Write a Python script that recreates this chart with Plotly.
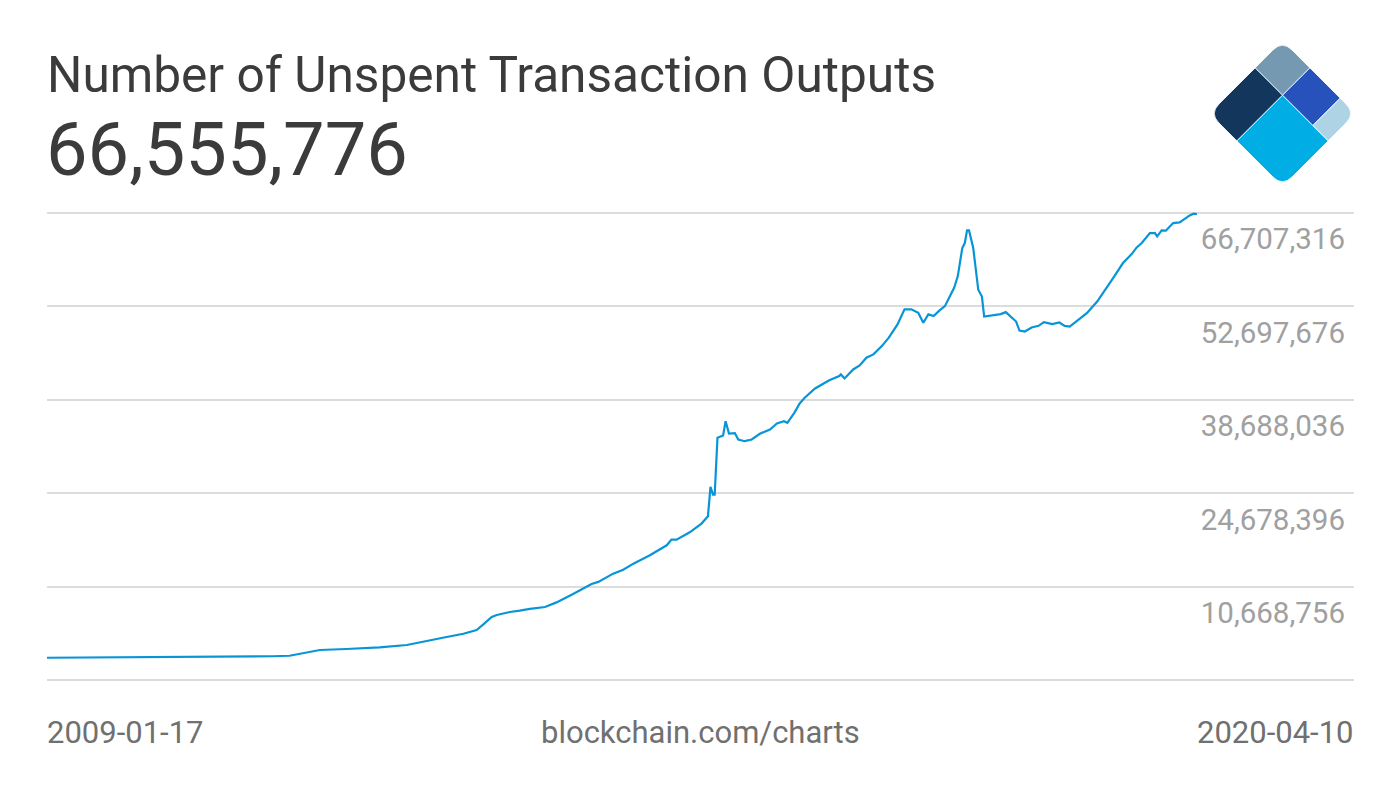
import pandas as pd
import plotly.graph_objects as go

# values (UTXO count, millions)
DATES = [
    "2009-01-17", "2009-07-01", "2010-01-01", "2010-07-01", "2011-01-01",
    "2011-04-01", "2011-06-01", "2011-06-20", "2011-08-01", "2011-09-17",
    "2011-12-20", "2012-04-17", "2012-07-23", "2012-10-14", "2012-12-12",
    "2013-02-10", "2013-03-29", "2013-04-21", "2013-05-22", "2013-06-09",
    "2013-07-26", "2013-08-30", "2013-10-05", "2013-11-28", "2014-01-08",
    "2014-03-08", "2014-05-13", "2014-06-06", "2014-07-29", "2014-09-03",
    "2014-10-09", "2014-12-07", "2015-02-05", "2015-02-22", "2015-03-12",
    "2015-04-28", "2015-06-09", "2015-07-02", "2015-07-11", "2015-07-20",
    "2015-07-26", "2015-08-05", "2015-08-25", "2015-09-03", "2015-09-15",
    "2015-10-06", "2015-10-18", "2015-11-10", "2015-12-05", "2016-01-03",
    "2016-02-08", "2016-03-04", "2016-03-29", "2016-04-10", "2016-05-05",
    "2016-05-24", "2016-06-11", "2016-07-18", "2016-09-05", "2016-10-12",
    "2016-10-18", "2016-10-31", "2016-12-01", "2016-12-24", "2017-01-17",
    "2017-02-11", "2017-03-13", "2017-04-07", "2017-05-08", "2017-06-02",
    "2017-06-26", "2017-07-21", "2017-08-08", "2017-08-26", "2017-09-14",
    "2017-10-02", "2017-10-24", "2017-11-08", "2017-11-26", "2017-12-09",
    "2017-12-25", "2018-01-03", "2018-01-11", "2018-01-18", "2018-02-02",
    "2018-02-20", "2018-03-05", "2018-03-13", "2018-04-04", "2018-04-22",
    "2018-05-11", "2018-05-29", "2018-06-17", "2018-07-05", "2018-07-17",
    "2018-08-05", "2018-08-29", "2018-09-23", "2018-10-12", "2018-11-11",
    "2018-12-06", "2018-12-25", "2019-01-12", "2019-02-18", "2019-03-14",
    "2019-04-20", "2019-05-27", "2019-06-20", "2019-07-21", "2019-08-21",
    "2019-09-08", "2019-09-26", "2019-10-25", "2019-11-12", "2019-11-20",
    "2019-12-06", "2019-12-21", "2020-01-16", "2020-02-08", "2020-03-01",
    "2020-03-15", "2020-03-29", "2020-04-10",
]
UTXO_MILLIONS = [
    0.00, 0.03, 0.06, 0.10, 0.15,
    0.22, 0.30, 0.45, 0.80, 1.16,
    1.31, 1.55, 1.91, 2.55, 3.11,
    3.60, 4.16, 4.96, 6.11, 6.41,
    6.86, 7.06, 7.33, 7.61, 8.30,
    9.56, 11.06, 11.37, 12.61, 13.21,
    14.11, 15.36, 16.86, 17.72, 17.72,
    18.81, 20.12, 21.21, 25.63, 24.47,
    24.47, 32.99, 33.33, 35.48, 33.63,
    33.70, 32.73, 32.48, 32.73, 33.59,
    34.23, 35.14, 35.48, 35.24, 36.74,
    38.14, 38.99, 40.39, 41.59, 42.24,
    42.49, 41.89, 43.24, 43.84, 45.00,
    45.50, 46.74, 48.00, 50.00, 52.25,
    52.25, 51.75, 50.25, 51.50, 51.24,
    51.99, 52.74, 54.00, 55.50, 57.25,
    61.45, 62.20, 64.10, 64.10, 61.45,
    55.19, 54.18, 51.18, 51.33, 51.43,
    51.54, 51.84, 51.18, 50.43, 49.08,
    48.93, 49.53, 49.78, 50.34, 50.04,
    50.28, 49.78, 49.68, 50.84, 51.69,
    53.43, 55.60, 57.19, 59.20, 60.55,
    61.54, 62.20, 63.70, 63.70, 63.19,
    64.10, 64.05, 65.20, 65.30, 65.96,
    66.35, 66.60, 66.555776,
]
GRID_VALUES = [-3340884, 10668756, 24678396, 38688036, 52697676, 66707316]

TITLE = "Number of Unspent Transaction Outputs"
SOURCE = "blockchain.com/charts"

FONT = "Roboto"
LINE_COLOR = "#0895d8"

W, H = 1400, 788
M = dict(l=47, r=46, t=190, b=98)
PLOT_W = W - M["l"] - M["r"]
PLOT_H = H - M["t"] - M["b"]


def px_x(x):
    return (x - M["l"]) / PLOT_W


def px_y(y):
    return (H - M["b"] - y) / PLOT_H


# gridlines sit at 213px and 680px, the series ends at x=1197px
GRID_TOP_PX, GRID_BOT_PX = 213, 680
per_px = (GRID_VALUES[-1] - GRID_VALUES[0]) / (GRID_BOT_PX - GRID_TOP_PX)
y_range = [GRID_VALUES[0] - (H - M["b"] - GRID_BOT_PX) * per_px,
           GRID_VALUES[-1] + (GRID_TOP_PX - M["t"]) * per_px]

start, end = pd.Timestamp(DATES[0]), pd.Timestamp(DATES[-1])
x_end = start + (end - start) * (PLOT_W / (1197 - 47))

utxo = [v * 1e6 for v in UTXO_MILLIONS]

fig = go.Figure()
fig.add_trace(go.Scatter(
    x=DATES, y=utxo, mode="lines",
    line=dict(color=LINE_COLOR, width=2.2),
    hoverinfo="skip", showlegend=False,
))

# --- logo: rounded diamond split into five tiles
LOGO_C = (1282.5, 113.5)
LOGO_D = 73


def logo_pt(a, b):
    cx, cy = LOGO_C
    x = cx + LOGO_D * (a - b)
    y = cy - LOGO_D + LOGO_D * (a + b)
    return px_x(x), px_y(y)


def cell_path(a0, a1, b0, b1, corner=None, r=0.13):
    pts = [(a0, b0), (a1, b0), (a1, b1), (a0, b1)]
    parts = []
    for i, p in enumerate(pts):
        if i == corner:
            prev, nxt = pts[i - 1], pts[(i + 1) % 4]

            def toward(q):
                da, db = q[0] - p[0], q[1] - p[1]
                n = (da ** 2 + db ** 2) ** 0.5
                return p[0] + r * da / n, p[1] + r * db / n
            s = logo_pt(*toward(prev))
            c = logo_pt(*p)
            e = logo_pt(*toward(nxt))
            parts.append(("L" if parts else "M") + f"{s[0]:.5f},{s[1]:.5f}")
            parts.append(f"Q{c[0]:.5f},{c[1]:.5f} {e[0]:.5f},{e[1]:.5f}")
        else:
            q = logo_pt(*p)
            parts.append(("L" if parts else "M") + f"{q[0]:.5f},{q[1]:.5f}")
    return " ".join(parts) + " Z"


LOGO_TILES = [
    (0.0, 0.375, 0.0, 0.375, 0, "#7599b0"),
    (0.0, 0.375, 0.375, 1.0, 3, "#13365d"),
    (0.375, 0.79, 0.0, 0.375, None, "#2751bb"),
    (0.79, 1.0, 0.0, 0.375, 1, "#aed3e5"),
    (0.375, 1.0, 0.375, 1.0, 2, "#00aee5"),
]
for a0, a1, b0, b1, corner, color in LOGO_TILES:
    fig.add_shape(type="path", xref="paper", yref="paper",
                  path=cell_path(a0, a1, b0, b1, corner),
                  fillcolor=color, line=dict(color="white", width=0.8),
                  layer="above")

# --- text
fig.add_annotation(text=TITLE, xref="paper", yref="paper",
                   x=px_x(45), y=px_y(75), xanchor="left", yanchor="middle",
                   showarrow=False, font=dict(family=FONT, size=49.6, color="#3b3b3b"))
fig.add_annotation(text=f"{round(UTXO_MILLIONS[-1] * 1e6):,}", xref="paper", yref="paper",
                   x=px_x(44), y=px_y(150), xanchor="left", yanchor="middle",
                   showarrow=False, font=dict(family=FONT, size=74, color="#3b3b3b"))

bottom_font = dict(family=FONT, size=31, color="#707070")
fig.add_annotation(text=DATES[0], xref="paper", yref="paper",
                   x=px_x(45), y=px_y(732), xanchor="left", yanchor="middle",
                   showarrow=False, font=bottom_font)
fig.add_annotation(text=SOURCE, xref="paper", yref="paper",
                   x=px_x(700), y=px_y(732), xanchor="center", yanchor="middle",
                   showarrow=False, font=bottom_font)
fig.add_annotation(text=DATES[-1], xref="paper", yref="paper",
                   x=px_x(1356), y=px_y(732), xanchor="right", yanchor="middle",
                   showarrow=False, font=bottom_font)

fig.update_layout(
    width=W, height=H, margin=M,
    paper_bgcolor="white", plot_bgcolor="white",
    font=dict(family=FONT),
    xaxis=dict(type="date", range=[start, x_end], showgrid=False, zeroline=False,
               showline=False, showticklabels=False, ticks="", fixedrange=True),
    yaxis=dict(range=y_range, side="right", tickmode="array",
               tickvals=GRID_VALUES,
               ticktext=[""] + [f"{v:,}" for v in GRID_VALUES[1:]],
               ticklabelposition="inside", ticklabelstandoff=6, ticklabelshift=26,
               tickfont=dict(family=FONT, size=29.5, color="#a0a0a0"),
               showgrid=True, gridcolor="#dcdcdc", gridwidth=1.5,
               zeroline=False, showline=False, ticks="", fixedrange=True),
)

fig.write_html("out.html", config={"displayModeBar": False},
               post_script="document.body.style.margin='0';")
